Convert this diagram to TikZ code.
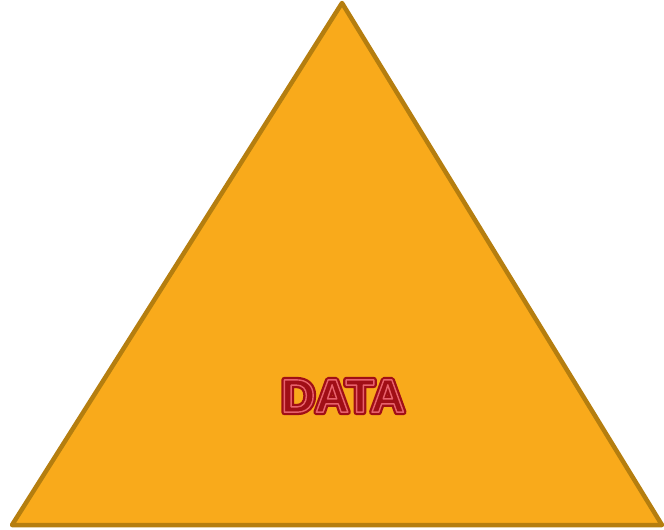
\documentclass[tikz,border=0pt]{standalone}
\usepackage{fontspec}
\setsansfont{Liberation Sans}
\definecolor{trifill}{HTML}{F9AA1B}
\definecolor{tristroke}{HTML}{B57E0F}
\definecolor{txtdark}{HTML}{A00E16}
\definecolor{txtpink}{HTML}{E8606A}
\newcommand{\outertxt}[1]{\special{pdf:literal direct 2 Tr 6 w 1 j 0.627 0.055 0.086 RG}#1}
\newcommand{\innertxt}[1]{\special{pdf:literal direct 2 Tr 1.4 w 1 j 0.91 0.38 0.42 RG}#1}
\begin{document}
\begin{tikzpicture}[x=1pt,y=-1pt,
  lbl/.style={font=\sffamily\bfseries\fontsize{47}{47}\selectfont, inner sep=0pt, text=txtdark}]
\useasboundingbox (0,0) rectangle (664,530);
\coordinate (top) at (342,3);
\coordinate (bl) at (12,525);
\coordinate (br) at (662,525);
\draw[fill=trifill, draw=tristroke, line width=4.5pt, line join=round] (top) -- (br) -- (bl) -- cycle;
\coordinate (c) at (343,396);
\node[lbl] (dataouter) at (c) {\outertxt{DATA}};
\node[lbl] (data) at (c) {\innertxt{DATA}};
\end{tikzpicture}
\end{document}
